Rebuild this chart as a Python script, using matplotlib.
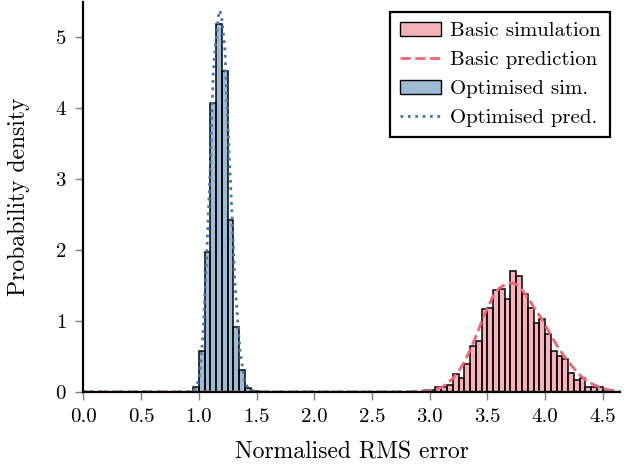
import numpy as np
import matplotlib
matplotlib.use('Agg')
import matplotlib.pyplot as plt
from matplotlib.patches import Patch
from matplotlib.lines import Line2D

plt.rcParams['font.family'] = ['cmr10', 'DejaVu Serif']
plt.rcParams['mathtext.fontset'] = 'cm'
plt.rcParams['axes.formatter.use_mathtext'] = True

# histogram data (density per 0.05-wide bin)
bin_width = 0.05
opt_start = 0.95
opt_density = [0.07, 0.57, 1.97, 4.07, 5.19, 4.52, 2.42, 0.91, 0.31, 0.05, 0.01, 0.005]

basic_start = 2.95
basic_density = [0.03, 0.03, 0.07, 0.07, 0.10, 0.25, 0.20, 0.40, 0.65, 0.72,
                 1.17, 1.19, 1.43, 1.45, 1.31, 1.71, 1.63, 1.38, 1.19, 0.97,
                 1.03, 0.82, 0.57, 0.51, 0.47, 0.27, 0.17, 0.19, 0.07, 0.07,
                 0.07, 0.01]

# predicted densities
opt_pred_x = [0.0, 0.90, 0.95, 0.97, 1.00, 1.02, 1.04, 1.07, 1.10, 1.125, 1.15,
              1.17, 1.183, 1.20, 1.226, 1.255, 1.284, 1.313, 1.356, 1.40, 1.44,
              1.50, 1.60, 4.65]
opt_pred_y = [0.0, 0.0, 0.02, 0.05, 0.17, 0.45, 0.92, 2.0, 3.2, 4.5, 5.0,
              5.3, 5.38, 5.25, 4.83, 3.65, 2.62, 1.54, 0.59, 0.12, 0.03,
              0.005, 0.0, 0.0]

basic_pred_x = [0.0, 2.8, 2.9, 3.0, 3.1, 3.15, 3.2, 3.25, 3.3, 3.35, 3.4, 3.45,
                3.5, 3.55, 3.6, 3.65, 3.7, 3.75, 3.8, 3.85, 3.9, 3.95, 4.0,
                4.05, 4.1, 4.15, 4.2, 4.25, 4.3, 4.35, 4.4, 4.45, 4.5, 4.55,
                4.6, 4.65]
basic_pred_y = [0.0, 0.0, 0.01, 0.02, 0.06, 0.12, 0.19, 0.29, 0.42, 0.59, 0.78,
                0.99, 1.18, 1.35, 1.46, 1.51, 1.54, 1.52, 1.44, 1.33, 1.20,
                1.08, 0.95, 0.80, 0.66, 0.54, 0.43, 0.33, 0.24, 0.17, 0.12,
                0.08, 0.05, 0.03, 0.02, 0.01]

red = '#EE6677'
blue = '#4477AA'

fig = plt.figure(figsize=(6.27, 4.66), dpi=100)
ax = fig.add_axes([0.133, 0.159, 0.856, 0.837])

basic_edges = basic_start + bin_width * np.arange(len(basic_density))
opt_edges = opt_start + bin_width * np.arange(len(opt_density))

ax.bar(basic_edges, basic_density, width=bin_width, align='edge',
       facecolor=matplotlib.colors.to_rgba(red, 0.5), edgecolor='black', linewidth=1.1)
ax.plot(basic_pred_x, basic_pred_y, color=red, linestyle='--', linewidth=2)
ax.bar(opt_edges, opt_density, width=bin_width, align='edge',
       facecolor=matplotlib.colors.to_rgba(blue, 0.5), edgecolor='black', linewidth=1.1)
ax.plot(opt_pred_x, opt_pred_y, color=blue, linestyle=':', linewidth=2)

ax.set_xlim(0, 4.65)
ax.set_ylim(0, 5.5)
ax.set_xticks(np.arange(0, 4.6, 0.5))
ax.set_xticklabels(['%.1f' % t for t in np.arange(0, 4.6, 0.5)])
ax.set_yticks([0, 1, 2, 3, 4, 5])

for side in ['top', 'right']:
    ax.spines[side].set_visible(False)
for side in ['left', 'bottom']:
    ax.spines[side].set_linewidth(1.6)
ax.tick_params(axis='both', direction='out', length=6, width=1, color='grey',
               labelsize=15, pad=6)

ax.set_xlabel('Normalised RMS error', fontsize=17, labelpad=11)
ax.set_ylabel('Probability density', fontsize=17, labelpad=18)

handles = [Patch(facecolor=matplotlib.colors.to_rgba(red, 0.5), edgecolor='black'),
           Line2D([], [], color=red, linestyle='--', linewidth=2),
           Patch(facecolor=matplotlib.colors.to_rgba(blue, 0.5), edgecolor='black'),
           Line2D([], [], color=blue, linestyle=':', linewidth=2)]
labels = ['Basic simulation', 'Basic prediction', 'Optimised sim.', 'Optimised pred.']
leg = ax.legend(handles, labels, loc='upper right', fontsize=15, fancybox=False,
                framealpha=1, edgecolor='black', borderaxespad=0.5,
                handletextpad=0.4, labelspacing=0.5, borderpad=0.45)
leg.get_frame().set_linewidth(1.6)

fig.savefig('out.png', dpi=100)
